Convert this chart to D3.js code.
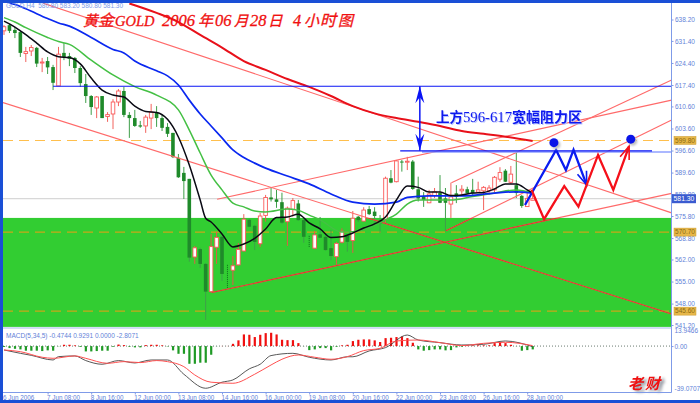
<!DOCTYPE html>
<html><head><meta charset="utf-8">
<script src="https://cdn.jsdelivr.net/npm/d3@7"></script>
<style>
html,body{margin:0;padding:0;background:#fff;overflow:hidden}
svg{display:block}
text{font-family:"Liberation Sans",Arial,sans-serif}
</style></head><body>
<svg id="c" width="700" height="403"></svg>
<script>
// ---------- data ----------
const opens=[634.6,636.4,634.9,634.2,627.4,628.2,629.2,624.4,625.0,623.1,617.1,627.6,626.6,626.0,622.8,617.7,613.9,610.1,613.9,607.4,608.2,612.0,615.5,607.9,606.9,604.6,604.4,606.9,608.8,606.9,604.1,602.2,594.3,589.5,587.6,562.8,565.3,560.6,551.8,565.9,569.2,560.0,558.6,560.3,564.7,574.6,572.7,567.0,576.0,581.7,581.1,580.2,574.0,577.9,579.8,574.5,569.1,565.6,570.0,569.2,565.6,562.9,567.5,569.5,568.0,575.6,574.2,578.0,577.2,574.3,574.8,587.8,586.7,593.1,592.9,593.1,584.3,581.9,580.0,582.3,583.1,581.4,579.6,583.0,583.8,584.3,584.1,583.4,583.8,583.8,584.1,587.5,590.2,586.5,585.6,582.2,578.8,580.8];
const highs=[636.4,636.8,635.8,634.6,629.5,630.1,629.5,626.0,626.3,623.8,629.5,630.7,627.6,626.3,623.4,620.9,614.2,613.9,613.9,608.8,612.9,616.1,616.8,608.8,609.5,606.0,607.9,611.4,610.7,607.9,605.3,602.2,595.5,591.4,587.6,566.3,565.7,560.9,570.1,570.8,569.5,560.3,563.1,567.2,576.4,574.9,573.0,576.8,582.5,584.7,584.1,583.2,578.8,581.5,580.9,575.2,569.5,571.1,575.5,570.4,571.4,567.6,571.9,569.8,577.4,575.8,578.6,579.0,578.6,576.1,588.3,590.4,593.6,593.6,594.6,593.6,588.3,583.4,584.1,584.7,588.8,584.7,586.4,585.6,585.6,585.1,587.6,586.7,585.3,585.6,588.5,591.3,590.7,591.7,595.9,582.5,583.1,583.2];
const lows=[633.3,633.9,632.3,626.3,624.7,626.6,623.1,621.5,620.9,615.8,617.1,625.3,623.4,621.2,616.8,611.7,607.9,606.9,606.9,605.7,603.4,610.7,607.2,600.6,604.1,603.8,602.2,603.4,604.1,602.8,600.9,594.2,587.9,581.2,561.3,560.6,559.3,542.8,551.5,560.6,555.2,553.0,553.9,560.0,564.5,572.3,565.0,566.0,574.0,580.4,578.4,573.3,566.3,575.6,574.3,567.3,565.9,565.3,568.8,564.8,561.8,560.3,567.1,564.5,564.1,573.9,574.0,576.1,573.3,570.4,573.3,586.2,586.5,589.9,590.4,584.1,580.4,578.7,579.9,581.5,579.9,571.0,575.2,579.9,582.5,582.8,582.5,583.1,577.7,582.5,583.4,586.7,586.6,586.0,581.5,578.4,578.7,580.8];
const closes=[635.9,634.6,633.9,627.6,628.0,629.3,624.2,624.7,623.0,618.1,627.2,626.3,625.7,622.8,618.0,613.9,610.4,613.6,606.9,608.0,612.0,615.5,607.9,606.9,604.4,604.2,607.2,608.8,606.9,603.8,601.9,594.5,588.1,586.9,562.6,565.7,560.6,551.8,566.1,569.0,557.4,559.6,560.0,565.2,574.8,572.4,567.6,575.8,581.7,581.1,580.3,573.7,578.3,580.7,574.5,569.2,566.3,569.8,568.9,565.0,563.1,567.1,571.0,567.6,575.1,574.5,577.7,576.4,575.8,573.5,587.8,586.4,593.3,592.9,593.2,584.4,581.4,580.9,582.8,583.5,580.0,580.0,581.9,581.9,584.3,583.0,583.0,584.1,584.9,584.7,588.1,589.6,586.7,589.1,583.1,579.0,581.4,581.3];
const dottedBars=[41,56];

const blackMA=[[0,637.7],[2,635.8],[4,633.4],[6,630.7],[8,627.9],[10,626.4],[12,626.1],[14,624.1],[16,619.6],[18,615.8],[20,614.2],[22,613.6],[24,610.7],[26,609.0],[28,608.7],[30,606.5],[32,600.9],[34,592.0],[36,580.9],[37,575.1],[38,573.9],[40,570.1],[42,566.0],[44,566.9],[46,568.7],[48,571.7],[50,575.3],[52,575.5],[54,576.4],[56,573.6],[58,571.7],[60,569.0],[62,569.2],[64,570.4],[66,572.0],[68,573.3],[70,575.5],[72,580.9],[74,585.3],[76,584.9],[78,583.4],[80,583.4],[82,582.3],[84,582.5],[86,583.1],[88,583.3],[90,584.4],[92,586.0],[94,586.0],[96,584.1],[97,583.1]];
const greenMA=[[0,638.8],[2,637.4],[4,635.6],[8,632.5],[10,631.2],[12,630.3],[16,625.3],[20,620.6],[24,616.9],[28,614.2],[32,609.5],[34,603.1],[36,595.8],[38,588.8],[40,584.1],[42,579.9],[44,578.7],[46,577.4],[48,577.1],[52,578.0],[54,577.6],[56,576.1],[58,574.6],[62,570.7],[66,571.4],[70,574.6],[72,576.4],[74,579.6],[76,580.9],[82,580.9],[86,582.0],[90,583.1],[94,584.1],[97,583.1]];
const blueMA=[[1,643.4],[2,643.0],[4,641.6],[8,638.5],[10,637.1],[12,636.1],[16,632.5],[20,628.7],[22,627.6],[24,625.0],[28,621.9],[30,620.3],[32,617.4],[34,612.6],[36,608.2],[38,604.4],[40,600.6],[42,596.8],[44,594.4],[46,592.6],[48,591.0],[52,588.5],[56,586.0],[60,582.8],[64,580.2],[68,579.6],[72,580.2],[74,581.7],[78,582.2],[84,582.2],[90,583.1],[94,583.5],[97,583.1]];
const redMA=[[23,643.3],[28,640.3],[32,637.4],[36,633.3],[40,629.3],[44,625.0],[48,622.2],[52,619.3],[56,616.8],[60,613.9],[64,610.7],[68,608.4],[72,606.9],[76,605.7],[80,604.4],[84,602.8],[88,601.9],[92,601.0],[97,599.6]];

const trendLines=[
 [[7.16,643.4],[122.5,576.8]],
 [[-0.18,611.8],[122.5,544.7]],
 [[39.1,581.1],[122.5,612.6]],
 [[38.1,551.5],[122.5,583.0]],
 [[82.1,586.4],[122.5,619.0]],
 [[81.1,571.1],[122.5,606.3]]
];
const resistanceTop=[[9,617.0],[122.5,617.0]];
const resistanceBase=[[72.7,596.5],[118.9,596.5]];
const rangeArrow=[[76.3,617.0],[76.3,596.5]];
const blueZigzag=[[95.6,579.3],[101.3,596.8],[103.1,590.4],[104.5,596.8],[106.9,585.7]];
const redZigzag=[[96.8,584.1],[99.1,574.8],[102.8,585.3],[105.4,578.8],[109.0,595.2],[111.8,584.1],[114.7,598.0]];
const targetDots=[[100.9,599.1],[115,600.2]];
const dashedLevels=[599.8,570.7,545.6];
const dashedLabels=["599.80","570.70","545.60"];
const bidPrice=581.30;
const bandTop=575.2, bandBottom=540.6;

const priceTicks=[638.20,631.40,624.40,617.40,610.60,603.60,596.60,589.60,582.80,575.80,568.80,562.00,555.00,548.00,541.20];
const timeTicks=[8,16,24,32,40,48,56,64,72,80,88,96];
const timeLabels=["7 Jun 08:00","8 Jun 16:00","12 Jun 00:00","13 Jun 08:00","14 Jun 16:00","16 Jun 00:00","19 Jun 08:00","20 Jun 16:00","22 Jun 00:00","23 Jun 08:00","26 Jun 16:00","28 Jun 00:00"];

const macdHist=[-0.8,-1.7,-2.3,-2.8,-3.9,-3.9,-3.9,-4.2,-3.6,-3.9,-0.2,1.1,1.1,0.6,-0.7,-4.5,-4.5,-4.2,-3.9,-3.9,-0.6,1.3,0.8,-0.6,-1.1,-1.1,0.8,1.1,1.1,0.6,-0.3,-3.6,-6.5,-6.5,-14.9,-14.9,-14.0,-14.0,-7.3,-0.1,0.1,0.1,1.9,4.8,9.8,9.5,7.6,9.5,10.9,11.2,9.8,5.3,5.0,5.0,2.5,-0.1,-3.4,-2.8,-1.7,-1.7,-3.6,-0.6,0.6,1.1,4.2,5.3,5.6,5.6,4.8,3.4,6.7,7.0,7.6,8.1,6.7,2.8,-2.8,-3.9,-3.4,-2.8,-2.8,-3.6,-3.4,-1.1,-0.6,0.6,0.6,0.6,0.6,0.6,2.5,3.4,2.5,1.1,-0.1,-3.9,-3.4,-2.8];
const macdMain=[[0,-3.3],[3,-6.1],[5,-7.8],[9,-11.7],[10,-8.9],[13,-8.3],[15,-12.2],[18,-15.3],[21,-12.2],[24,-14.2],[27,-11.7],[30,-11.7],[33,-23.7],[37,-35.5],[40,-30.4],[42,-28.5],[45,-19.2],[47,-15.3],[49,-8.0],[53,-6.1],[56,-9.4],[60,-11.7],[63,-9.0],[64,-9.0],[67,-4.1],[70,-1.3],[74,9.3],[76,5.1],[80,2.9],[84,0.9],[88,1.5],[92,4.3],[97,-0.5]];
const macdSignal=[[0,-3.3],[3,-4.7],[7,-9.4],[9,-10.3],[13,-8.3],[15,-10.3],[19,-14.5],[22,-13.1],[25,-13.9],[28,-12.2],[30,-13.1],[33,-17.3],[35,-24.3],[38,-30.4],[42,-31.3],[46,-23.7],[49,-15.9],[51,-11.1],[54,-7.5],[57,-9.4],[60,-11.1],[63,-8.9],[66,-3.8],[69,-1.9],[72,4.3],[76,5.1],[80,2.9],[84,0.4],[88,2.3],[92,3.2],[97,0.4]];

const headerText="GOLD,H4  580.80 583.20 580.80 581.30";
const macdText="MACD(5,34,5) -0.4744 0.9291 0.0000 -2.8071";
const firstDateLabel="6 Jun 2006";
const macdAxisTicks=[13.9466,0,-39.0707];
const macdAxisLabels=["13.9466","0.00","-39.0707"];

// ---------- scales ----------
const svg=d3.select("#c");
const axisCol="#7f9be8", textCol="#5f7fd8", frame="#1a4fd6";
const x=d3.scaleLinear().domain([0,96]).range([4,527.2]);
const y=d3.scaleLinear().domain([541.2,638.2]).range([325,19.5]);
const ym=d3.scaleLinear().domain([-39.07,13.9466]).range([392.5,329.5]);
const RIGHT=671.5;

const defs=svg.append("defs");
defs.append("clipPath").attr("id","mainClip").append("rect").attr("x",3).attr("y",3).attr("width",RIGHT-3).attr("height",324.5);
defs.append("clipPath").attr("id","macdClip").append("rect").attr("x",3).attr("y",328.5).attr("width",RIGHT-3).attr("height",64);
defs.append("clipPath").attr("id","bandClip").append("rect").attr("x",3).attr("y",y(bandTop)).attr("width",RIGHT-3).attr("height",y(bandBottom)-y(bandTop));

const main=svg.append("g").attr("clip-path","url(#mainClip)");

// band
main.append("rect").attr("x",3).attr("width",RIGHT-3)
  .attr("y",y(bandTop)).attr("height",y(bandBottom)-y(bandTop)).attr("fill","#32cd32");

// bid line
main.append("line").attr("x1",3).attr("x2",RIGHT).attr("y1",y(bidPrice)).attr("y2",y(bidPrice))
  .attr("stroke","#d8d8d8").attr("stroke-width",1.3);

// dashed levels
main.selectAll(".lvl").data(dashedLevels).join("line").attr("class","lvl")
  .attr("x1",3).attr("x2",RIGHT).attr("y1",d=>y(d)).attr("y2",d=>y(d))
  .attr("stroke",d=>d<bandTop?"#c8a818":"#ffbf4d").attr("stroke-width",1.1)
  .attr("stroke-dasharray","10 6");

// candles
const idx=d3.range(opens.length);
const g=main.append("g");
g.selectAll(".wick").data(idx).join("line").attr("class","wick")
  .attr("x1",i=>x(i)).attr("x2",i=>x(i)).attr("y1",i=>y(highs[i])).attr("y2",i=>y(lows[i]))
  .attr("stroke",i=>closes[i]>=opens[i]?"#f0504a":(dottedBars.includes(i)?"#0f6a1f":"#3f9f4a"))
  .attr("stroke-width",i=>closes[i]>=opens[i]?0.9:1)
  .attr("stroke-dasharray",i=>dottedBars.includes(i)?"1 1":null);
g.selectAll(".body").data(idx.filter(i=>!dottedBars.includes(i))).join("rect").attr("class","body")
  .attr("x",i=>x(i)-1.8).attr("width",3.6)
  .attr("y",i=>y(Math.max(opens[i],closes[i])))
  .attr("height",i=>Math.max(1,Math.abs(y(opens[i])-y(closes[i]))))
  .attr("fill",i=>closes[i]>=opens[i]?"#fff":"#1f8a2a")
  .attr("stroke",i=>closes[i]>=opens[i]?"#fb5a5a":"none")
  .attr("stroke-width",0.9);

// trend lines: pale over white, deeper over the green band
const ln=d3.line().x(d=>x(d[0])).y(d=>y(d[1]));
main.selectAll(".tl").data(trendLines).join("path").attr("class","tl")
  .attr("d",ln).attr("fill","none").attr("stroke","#ff6a6a").attr("stroke-width",1.1);
main.append("g").attr("clip-path","url(#bandClip)").selectAll(".tb").data(trendLines).join("path").attr("class","tb")
  .attr("d",ln).attr("fill","none").attr("stroke","#d8402c").attr("stroke-width",1.1);

// moving averages
const smooth=d3.line().x(d=>x(d[0])).y(d=>y(d[1])).curve(d3.curveMonotoneX);
[[greenMA,"#44c044",1.5],[redMA,"#e8101a",2],[blueMA,"#0a28f0",1.7],[blackMA,"#0a0a14",1.5]].forEach(([s,c,w])=>{
  main.append("path").attr("d",smooth(s)).attr("fill","none").attr("stroke",c).attr("stroke-width",w);
});

// resistance lines
main.append("path").attr("d",ln(resistanceBase.map(d=>[d[0]+4,d[1]-0.35]))).attr("fill","none").attr("stroke","#8fa0ff").attr("stroke-width",1.4);
[resistanceTop,resistanceBase].forEach(s=>main.append("path").attr("d",ln(s)).attr("fill","none").attr("stroke","#0a14f5").attr("stroke-width",1.1));

// range double arrow
const ax=x(rangeArrow[0][0]), ay1=y(rangeArrow[0][1]), ay2=y(rangeArrow[1][1]);
main.append("line").attr("x1",ax).attr("x2",ax).attr("y1",ay1).attr("y2",ay2).attr("stroke","#0a14f5").attr("stroke-width",1.5);
main.append("path").attr("fill","#0a14f5")
 .attr("d",`M${ax},${ay1} L${ax+4.5},${ay1+17} L${ax},${ay1+11} L${ax-4.5},${ay1+17} Z M${ax},${ay2} L${ax+4.5},${ay2-17} L${ax},${ay2-11} L${ax-4.5},${ay2-17} Z`);

// zigzag forecasts with arrowheads
function zig(data,col){
  main.append("path").attr("d",ln(data)).attr("fill","none").attr("stroke",col).attr("stroke-width",2.3).attr("stroke-linejoin","miter");
  const a=data[data.length-2], b=data[data.length-1];
  const px=x(b[0]),py=y(b[1]),ang=Math.atan2(py-y(a[1]),px-x(a[0]));
  const h=(t)=>[px-14*Math.cos(ang+t),py-14*Math.sin(ang+t)];
  const [l,r]=[h(.35),h(-.35)];
  main.append("path").attr("d",`M${l} L${px},${py} L${r}`).attr("fill","none").attr("stroke",col).attr("stroke-width",1.6);
}
zig(blueZigzag,"#0a1cf0");
zig(redZigzag,"#f5101a");

// target dots
main.selectAll(".dot").data(targetDots).join("circle").attr("class","dot")
  .attr("cx",d=>x(d[0])).attr("cy",d=>y(d[1])).attr("r",4.5)
  .attr("fill","#0a14e8").style("filter","drop-shadow(2px 2px 1.2px #c0c0c0)");

// header & annotation texts
svg.append("text").attr("x",6).attr("y",8.3).attr("font-size",6.5).attr("fill","#7c9ae8").attr("xml:space","preserve").text(headerText);

const titleRed="#f01010";
[["黄",83,15,"c"],["金",98,16,"c"],["GOLD",115,14.5,"l"],["2006",162,16.5,"l"],["年",198,15,"c"],["06",215,16.5,"l"],["月",234,14.5,"c"],["28",250,16.5,"l"],["日",268,14.5,"c"],["4",293,16.5,"l"],["小",304,15,"c"],["时",320,16,"c"],["图",338,15,"c"]]
.forEach(([t,px,s,k])=>{
  svg.append("text").attr("x",px).attr("y",26).attr("font-size",s).attr("fill",titleRed)
   .attr("stroke",titleRed).attr("stroke-width",.3)
   .attr("font-style","italic")
   .style("font-family",k==="c"?'"Noto Sans CJK SC"':'"Liberation Serif"').text(t);
});

const noteG=svg.append("g").style("filter","drop-shadow(1px 1px 0.6px #b8c4ff)");
[["上方",436,"c",27],["596-617",463,"l",49],["宽幅阻力区",512,"c",70]].forEach(([t,px,k,w])=>{
  noteG.append("text").attr("x",px).attr("y",122).attr("font-size",k==="c"?13.5:15)
   .attr("font-weight",k==="c"?"bold":"normal").attr("fill","#0d18ee")
   .attr("textLength",w).attr("lengthAdjust","spacingAndGlyphs")
   .style("font-family",k==="c"?'"Noto Sans CJK SC"':'"Liberation Serif"').text(t);
});

const sig=svg.append("g").style("filter","drop-shadow(3px 2px 1.6px #8a8f9a)");
[["老",628],["财",645]].forEach(([t,px])=>{
  sig.append("text").attr("x",px).attr("y",389).attr("font-size",15).attr("font-weight","bold").attr("font-style","italic")
   .attr("fill","#f01010").style("font-family",'"Noto Sans CJK SC"').text(t);
});

// MACD panel
const macd=svg.append("g").attr("clip-path","url(#macdClip)");
macd.append("line").attr("x1",3).attr("x2",RIGHT).attr("y1",ym(0)).attr("y2",ym(0))
  .attr("stroke","#6a7a70").attr("stroke-width",1).attr("stroke-dasharray","1 2");
macd.selectAll(".h").data(macdHist).join("rect").attr("class","h")
  .attr("x",(d,i)=>x(i)-1).attr("width",2.2)
  .attr("y",d=>d>=0?ym(d):ym(0)).attr("height",d=>Math.abs(ym(d)-ym(0)))
  .attr("fill",d=>d>=0?"#f01010":"#1f9a25");
const ml=d3.line().x(d=>x(d[0])).y(d=>ym(d[1])).curve(d3.curveMonotoneX);
macd.append("path").attr("d",ml(macdMain)).attr("fill","none").attr("stroke","#444").attr("stroke-width",.9);
macd.append("path").attr("d",ml(macdSignal)).attr("fill","none").attr("stroke","#ff5050").attr("stroke-width",1);
svg.append("text").attr("x",6).attr("y",338).attr("font-size",6.5).attr("fill",textCol).text(macdText);

// axes
const styleAxis=(a,fs)=>{
  a.selectAll("path,line").attr("stroke",axisCol);
  a.selectAll("text").attr("fill",textCol).attr("font-size",fs).style("font-family",'"Liberation Sans"');
};
const ay=svg.append("g").attr("transform",`translate(${RIGHT},0)`)
  .call(d3.axisRight(y).tickValues(priceTicks).tickFormat(d3.format(".2f")).tickSize(2).tickSizeOuter(0).tickPadding(1.5));
ay.select("path").remove();
styleAxis(ay,6.5);
svg.append("line").attr("x1",RIGHT).attr("x2",RIGHT).attr("y1",3).attr("y2",392.5).attr("stroke",axisCol);
svg.append("line").attr("x1",3).attr("x2",RIGHT).attr("y1",328).attr("y2",328).attr("stroke","#a6bbf0");
svg.append("line").attr("x1",3).attr("x2",RIGHT).attr("y1",392.5).attr("y2",392.5).attr("stroke",axisCol);

const am=svg.append("g").attr("transform",`translate(${RIGHT},0)`)
  .call(d3.axisRight(ym).tickValues(macdAxisTicks).tickFormat((d,i)=>macdAxisLabels[i]).tickSize(2).tickPadding(1));
am.select("path").remove();
styleAxis(am,6.5);
am.selectAll("text").attr("dy",(d)=>d>1?"3.2":(d<-1?"-1.6":"2.2"));
am.selectAll("line").attr("transform",d=>d===0?"":"scale(0)");

const at=svg.append("g").attr("transform","translate(0,392.5)")
  .call(d3.axisBottom(x).tickValues(timeTicks).tickFormat((d,i)=>timeLabels[i]).tickSize(2).tickPadding(0));
at.select("path").remove();
styleAxis(at,6.3);
at.selectAll("text").attr("text-anchor","start").attr("dx",-1).attr("y",3);
svg.append("text").attr("x",3).attr("y",400).attr("font-size",6.3).attr("fill",textCol).text(firstDateLabel);

// price tags
const tag=svg.append("g");
dashedLevels.forEach((p,k)=>{
  tag.append("rect").attr("x",674).attr("y",y(p)-4).attr("width",22).attr("height",8).attr("fill","#e8b84a").attr("stroke","#c99a2e").attr("stroke-width",.5);
  tag.append("text").attr("x",685).attr("y",y(p)+2.3).attr("text-anchor","middle").attr("font-size",6.5).attr("fill","#8a6a10").text(dashedLabels[k]);
});
tag.append("rect").attr("x",672).attr("y",y(bidPrice)-4.5).attr("width",24).attr("height",9).attr("fill","#3a5bd0");
tag.append("text").attr("x",684).attr("y",y(bidPrice)+2.4).attr("text-anchor","middle").attr("font-size",6.8).attr("fill","#fff").text(bidPrice.toFixed(2));

// window frame
svg.append("rect").attr("x",0).attr("y",0).attr("width",700).attr("height",3).attr("fill",frame);
svg.append("rect").attr("x",0).attr("y",0).attr("width",3).attr("height",403).attr("fill",frame);
svg.append("rect").attr("x",0).attr("y",400).attr("width",700).attr("height",3).attr("fill",frame);
</script>
</body></html>
